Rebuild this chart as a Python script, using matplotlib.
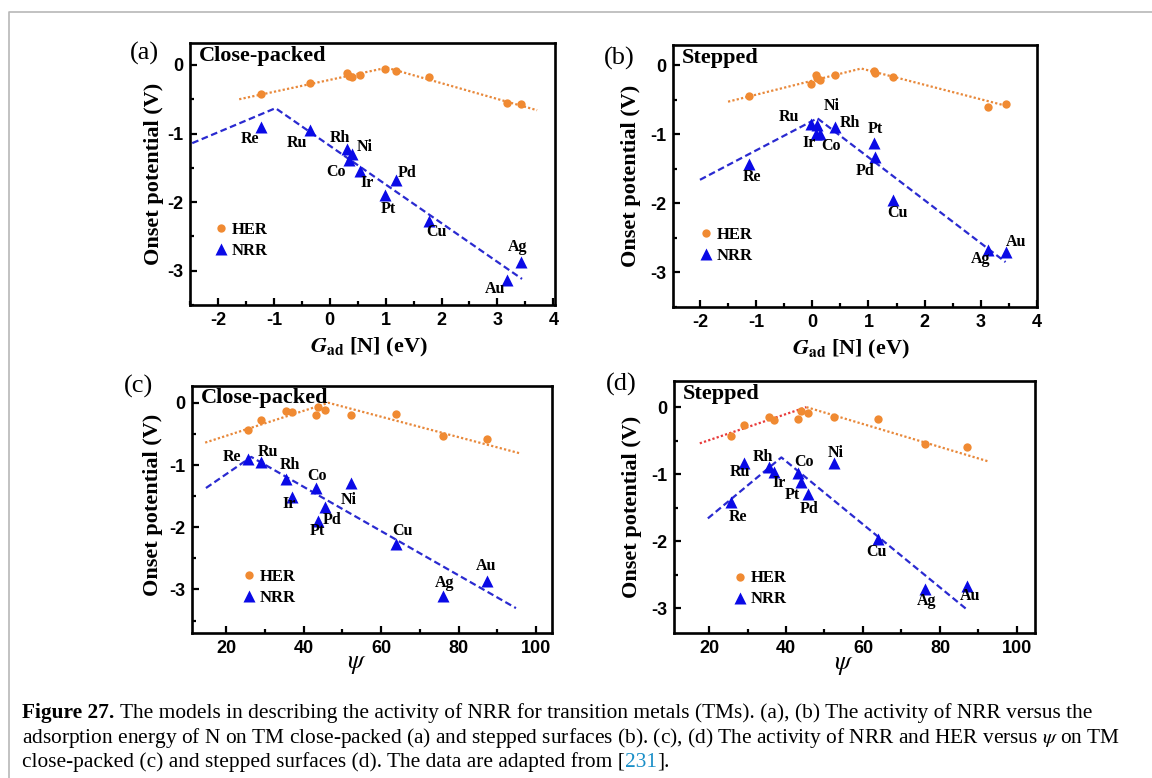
import matplotlib
matplotlib.use("Agg")
import matplotlib.pyplot as plt
from matplotlib.lines import Line2D
from matplotlib.ticker import MultipleLocator

plt.rcParams['axes.unicode_minus'] = False
plt.rcParams['mathtext.fontset'] = 'stix'

W, H = 1152, 778

metals = ['Re', 'Ru', 'Rh', 'Ni', 'Co', 'Ir', 'Pd', 'Pt', 'Cu', 'Ag', 'Au']

# (a) close-packed, G_ad[N]
a_x = [-1.23, -0.36, 0.30, 0.39, 0.34, 0.54, 1.19, 0.98, 1.77, 3.43, 3.17]
a_nrr = [-0.90, -0.95, -1.23, -1.30, -1.38, -1.54, -1.68, -1.89, -2.28, -2.88, -3.13]
a_her = [-0.43, -0.27, -0.12, -0.17, -0.16, -0.14, -0.09, -0.06, -0.17, -0.57, -0.55]
a_her_fit_x = [-1.62, 1.02, 3.71]
a_her_fit_y = [-0.50, -0.04, -0.66]
a_nrr_fit_x = [-2.46, -0.97, 3.44]
a_nrr_fit_y = [-1.14, -0.63, -3.12]

# (b) stepped, G_ad[N]
b_x = [-1.12, -0.02, 0.40, 0.09, 0.13, 0.07, 1.12, 1.09, 1.44, 3.12, 3.45]
b_nrr = [-1.43, -0.85, -0.90, -0.87, -1.00, -1.00, -1.33, -1.13, -1.95, -2.67, -2.71]
b_her = [-0.45, -0.28, -0.15, -0.19, -0.22, -0.15, -0.12, -0.09, -0.18, -0.60, -0.57]
b_her_fit_x = [-1.50, 0.87, 3.50]
b_her_fit_y = [-0.53, -0.05, -0.60]
b_nrr_fit_x = [-2.00, 0.09, 3.44]
b_nrr_fit_y = [-1.66, -0.77, -2.85]

# (c) close-packed, psi
c_x = [25.6, 29.1, 35.4, 52.3, 43.1, 36.9, 45.5, 43.8, 63.9, 76.1, 87.3]
c_nrr = [-0.91, -0.95, -1.23, -1.29, -1.37, -1.52, -1.67, -1.90, -2.27, -3.10, -2.87]
c_her = [-0.44, -0.27, -0.13, -0.20, -0.19, -0.14, -0.11, -0.07, -0.18, -0.53, -0.58]
c_her_fit_x = [14.6, 46.4, 95.7]
c_her_fit_y = [-0.64, 0.00, -0.81]
c_nrr_fit_x = [14.8, 26.5, 94.8]
c_nrr_fit_y = [-1.37, -0.87, -3.30]

# (d) stepped, psi
d_x = [25.8, 29.1, 35.5, 52.4, 43.2, 36.9, 45.6, 43.9, 63.8, 76.1, 87.1]
d_nrr = [-1.41, -0.84, -0.89, -0.84, -0.98, -0.97, -1.29, -1.12, -1.96, -2.72, -2.67]
d_her = [-0.43, -0.26, -0.15, -0.15, -0.18, -0.19, -0.09, -0.06, -0.18, -0.55, -0.59]
d_her_fit_x = [17.6, 45.3, 92.6]
d_her_fit_y = [-0.54, 0.00, -0.81]
d_nrr_fit_x = [19.7, 38.8, 86.8]
d_nrr_fit_y = [-1.66, -0.75, -3.01]

# label offsets in pixels (layout only)
offsets = {
    'a': {'Re': (-11, -12), 'Ru': (-13, -13), 'Rh': (-7, 11), 'Ni': (13, 7), 'Co': (-13, -12),
          'Ir': (7, -12), 'Pd': (11, 7), 'Pt': (4, -14), 'Cu': (8, -11), 'Ag': (-4, 15), 'Au': (-12, -9)},
    'b': {'Re': (3, -13), 'Ru': (-22, 7), 'Rh': (15, 4), 'Ni': (14, 19), 'Co': (11, -12),
          'Ir': (-7, -9), 'Pd': (-10, -14), 'Pt': (2, 14), 'Cu': (4, -13), 'Ag': (-7, -9), 'Au': (10, 10)},
    'c': {'Re': (-16, 2), 'Ru': (7, 10), 'Rh': (4, 14), 'Ni': (-3, -17), 'Co': (1, 12),
          'Ir': (-2, -7), 'Pd': (7, -13), 'Pt': (-1, -10), 'Cu': (6, 13), 'Ag': (1, 13), 'Au': (-1, 15)},
    'd': {'Re': (7, -15), 'Ru': (-4, -9), 'Rh': (-6, 10), 'Ni': (2, 10), 'Co': (6, 11),
          'Ir': (5, -11), 'Pd': (2, -15), 'Pt': (-9, -13), 'Cu': (-1, -13), 'Ag': (2, -12), 'Au': (3, -10)},
}

HER_C = '#f08a32'
NRR_C = '#0a0ae6'
HER_LINE = '#e8883a'
NRR_LINE = '#2a2ad0'
SERIF = 'Liberation Serif'
SANS = 'Liberation Sans'

fig = plt.figure(figsize=(W / 100, H / 100), dpi=100)


def px_axes(l, t, r, b):
    return fig.add_axes([l / W, 1 - b / H, (r - l) / W, (b - t) / H])


panels = [
    dict(key='a', box=(190, 43, 555, 305), x=a_x, nrr=a_nrr, her=a_her,
         hfx=a_her_fit_x, hfy=a_her_fit_y, nfx=a_nrr_fit_x, nfy=a_nrr_fit_y,
         xlim=(-2.5, 4.03), ylim=(-3.5, 0.32), xmaj=1, xmin=0.5, title='Close-packed',
         leg=(0.065, 0.248), lab=(-0.165, 0.96), ylab=(-0.072, 0.5)),
    dict(key='b', box=(673, 45, 1037, 307), x=b_x, nrr=b_nrr, her=b_her,
         hfx=b_her_fit_x, hfy=b_her_fit_y, nfx=b_nrr_fit_x, nfy=b_nrr_fit_y,
         xlim=(-2.48, 4.0), ylim=(-3.5, 0.29), xmaj=1, xmin=0.5, title='Stepped',
         leg=(0.07, 0.235), lab=(-0.19, 0.95), ylab=(-0.088, 0.5)),
    dict(key='c', box=(192, 386, 552, 633), x=c_x, nrr=c_nrr, her=c_her,
         hfx=c_her_fit_x, hfy=c_her_fit_y, nfx=c_nrr_fit_x, nfy=c_nrr_fit_y,
         xlim=(11.2, 104.1), ylim=(-3.7, 0.27), xmaj=20, xmin=10, title='Close-packed',
         leg=(0.137, 0.186), lab=(-0.19, 1.0), ylab=(-0.08, 0.52)),
    dict(key='d', box=(674, 381, 1035, 633), x=d_x, nrr=d_nrr, her=d_her,
         hfx=d_her_fit_x, hfy=d_her_fit_y, nfx=d_nrr_fit_x, nfy=d_nrr_fit_y,
         xlim=(10.9, 104.7), ylim=(-3.37, 0.39), xmaj=20, xmin=10, title='Stepped',
         leg=(0.162, 0.175), lab=(-0.19, 0.985), ylab=(-0.088, 0.5)),
]

for p in panels:
    ax = px_axes(*p['box'])
    k = p['key']
    # fit lines
    if k == 'd':
        ax.plot(p['hfx'][:2], p['hfy'][:2], ls=(0, (1, 1)), color='#e83a3a', lw=1.6)
        ax.plot(p['hfx'][1:], p['hfy'][1:], ls=(0, (1, 1)), color=HER_LINE, lw=1.6)
    else:
        ax.plot(p['hfx'], p['hfy'], ls=(0, (1, 1)), color=HER_LINE, lw=1.6)
    ax.plot(p['nfx'], p['nfy'], ls=(0, (3, 1.6)), color=NRR_LINE, lw=1.6)
    ax.plot(p['x'], p['her'], 'o', color=HER_C, ms=6, mec='none', label='HER')
    ax.plot(p['x'], p['nrr'], '^', color=NRR_C, ms=8, mec='none', label='NRR')

    for m, xv, yv in zip(metals, p['x'], p['nrr']):
        ax.annotate(m, (xv, yv), xytext=offsets[k][m], textcoords='offset pixels',
                    ha='center', va='center', fontsize=11.5, fontweight='bold', family=SERIF)

    ax.set_xlim(*p['xlim'])
    ax.set_ylim(*p['ylim'])
    ax.xaxis.set_major_locator(MultipleLocator(p['xmaj']))
    ax.xaxis.set_minor_locator(MultipleLocator(p['xmin']))
    ax.yaxis.set_major_locator(MultipleLocator(1))
    ax.yaxis.set_minor_locator(MultipleLocator(0.5))
    ax.tick_params(which='both', direction='in', top=False, right=False, width=1.6)
    ax.tick_params(which='major', length=5, labelsize=13, pad=5)
    ax.tick_params(which='minor', length=3)
    for t in ax.get_xticklabels() + ax.get_yticklabels():
        t.set_family(SANS)
        t.set_fontweight('bold')
    for s in ax.spines.values():
        s.set_linewidth(1.9)

    ax.set_ylabel('Onset potential (V)', fontsize=16, fontweight='bold', family=SERIF)
    ax.yaxis.set_label_coords(*p['ylab'])
    if k in ('a', 'b'):
        ax.set_xlabel(r'$\mathbfit{G}_{\mathbf{ad}}$ [N] (eV)', fontsize=16,
                      fontweight='bold', family=SERIF)
        ax.xaxis.set_label_coords(0.49, -0.118)
    else:
        ax.set_xlabel(r'$\psi$', fontsize=19)
        ax.xaxis.set_label_coords(0.458 if k == 'c' else 0.47, -0.07)

    ax.text(0.024, 0.99, p['title'], transform=ax.transAxes, ha='left', va='top',
            fontsize=16, fontweight='bold', family=SERIF)
    ax.text(p['lab'][0], p['lab'][1], '(%s)' % k, transform=ax.transAxes, ha='left',
            va='center', fontsize=19, family=SERIF)

    ax.legend(loc='center left', bbox_to_anchor=p['leg'], frameon=False,
              prop={'family': SERIF, 'weight': 'bold', 'size': 12},
              handlelength=0.9, handletextpad=0.2, labelspacing=0.3, borderpad=0,
              borderaxespad=0)

# outer page frame
fig.add_artist(Line2D([9 / W, 9 / W, 1.0], [0.0, 1 - 12 / H, 1 - 12 / H],
                      transform=fig.transFigure, color='#b8b8b8', lw=1.2))

# caption
renderer = fig.canvas.get_renderer()


def caption_line(y_px, parts):
    x = 22
    for txt, kw in parts:
        t = fig.text(x / W, 1 - y_px / H, txt, va='baseline', ha='left',
                     fontsize=15.4, family=SERIF, **kw)
        x = t.get_window_extent(renderer).x1


caption_line(718, [('Figure 27. ', dict(fontweight='bold')),
                   ('The models in describing the activity of NRR for transition metals (TMs). (a), (b) '
                    'The activity of NRR versus the', {})])
caption_line(742.5, [('adsorption energy of N on TM close-packed (a) and stepped surfaces (b). (c), (d) '
                      r'The activity of NRR and HER versus $\psi$ on TM', {})])
caption_line(767, [('close-packed (c) and stepped surfaces (d). The data are adapted from [', {}),
                   ('231', dict(color='#1a8fc8')),
                   (('].'), {})])

fig.savefig('out.png', dpi=100)
